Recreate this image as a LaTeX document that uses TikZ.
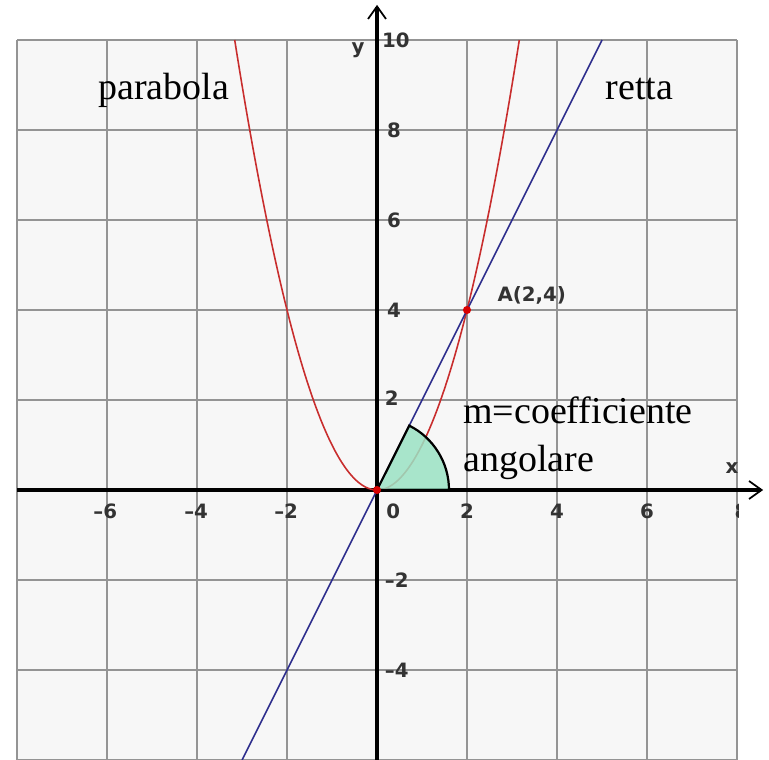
\documentclass[tikz,border=0pt]{standalone}
\usepackage{fontspec}
\setmainfont{Liberation Serif}
\newfontfamily\numfont{DejaVu Sans}
\usetikzlibrary{arrows.meta}
\definecolor{paracol}{RGB}{200,45,45}
\definecolor{rettacol}{RGB}{45,45,140}
\definecolor{angcol}{RGB}{155,226,196}
\tikzset{
  ticklab/.style={font=\numfont\bfseries\fontsize{12.5}{14}\selectfont, text=black!80, inner sep=0pt},
  bigtext/.style={font=\fontsize{24}{29}\selectfont, inner sep=0pt},
  axisline/.style={line width=2.2pt, -{Straight Barb[length=2.8mm,width=4mm,line width=1.1pt]}}
}
\begin{document}
\begin{tikzpicture}
\useasboundingbox (-8.378,-6) rectangle (8.711,10.889);
\fill[black!3] (-8,-6) rectangle (8,10);
\draw[black!42, line width=1pt] (-8,-6) grid[step=2] (8,10);
% assi
\draw[axisline] (-8,0) -- (8.58,0);
\draw[axisline] (0,-6) -- (0,10.78);
\coordinate (O) at (0,0);
\coordinate (A) at (2,4);
% curve
\draw[paracol, line width=1pt, domain=-3.1623:3.1623, samples=120, smooth] plot (\x,{\x*\x});
\draw[rettacol, line width=1pt] (-3,-6) -- (5,10);
% angolo
\filldraw[fill=angcol, fill opacity=0.85, draw=black, line width=1.4pt] (O) -- (1.6,0) arc[start angle=0, end angle=63.43, radius=1.6] -- cycle;
\fill[red!85!black] (O) circle (0.09);
\fill[red!85!black] (A) circle (0.09);
% numeri
\node[ticklab] (ty10) at (0.42,10.0) {10};
\node[ticklab] (ty8) at (0.38,8) {8};
\node[ticklab] (ty6) at (0.38,6) {6};
\node[ticklab] (ty4) at (0.38,4) {4};
\node[ticklab] (ty2) at (0.33,2.05) {2};
\node[ticklab] (tym2) at (0.44,-2) {–2};
\node[ticklab] (tym4) at (0.44,-4) {–4};
\node[ticklab] (txm6) at (-6.04,-0.47) {–6};
\node[ticklab] (txm4) at (-4.02,-0.47) {–4};
\node[ticklab] (txm2) at (-2.02,-0.47) {–2};
\node[ticklab] (tx0) at (0.36,-0.47) {0};
\node[ticklab] (tx2) at (2.0,-0.47) {2};
\node[ticklab] (tx4) at (4,-0.47) {4};
\node[ticklab] (tx6) at (6,-0.47) {6};
\begin{scope}
\clip (7,-1) rectangle (8.03,0);
\node[ticklab] (tx8) at (8.1,-0.47) {8};
\end{scope}
\node[ticklab] (labx) at (7.89,0.49) {x};
\node[ticklab] (laby) at (-0.42,9.78) {y};
\node[ticklab] (labA) at (3.44,4.33) {A(2,4)};
% scritte
\node[bigtext, anchor=base] (parab) at (-4.74,8.67) {parabola};
\node[bigtext, anchor=base] (retta) at (5.83,8.67) {retta};
\node[bigtext, anchor=base west] (coeff) at (1.91,1.47) {m=coefficiente};
\node[bigtext, anchor=base west] (angol) at (1.91,0.42) {angolare};
\end{tikzpicture}
\end{document}
